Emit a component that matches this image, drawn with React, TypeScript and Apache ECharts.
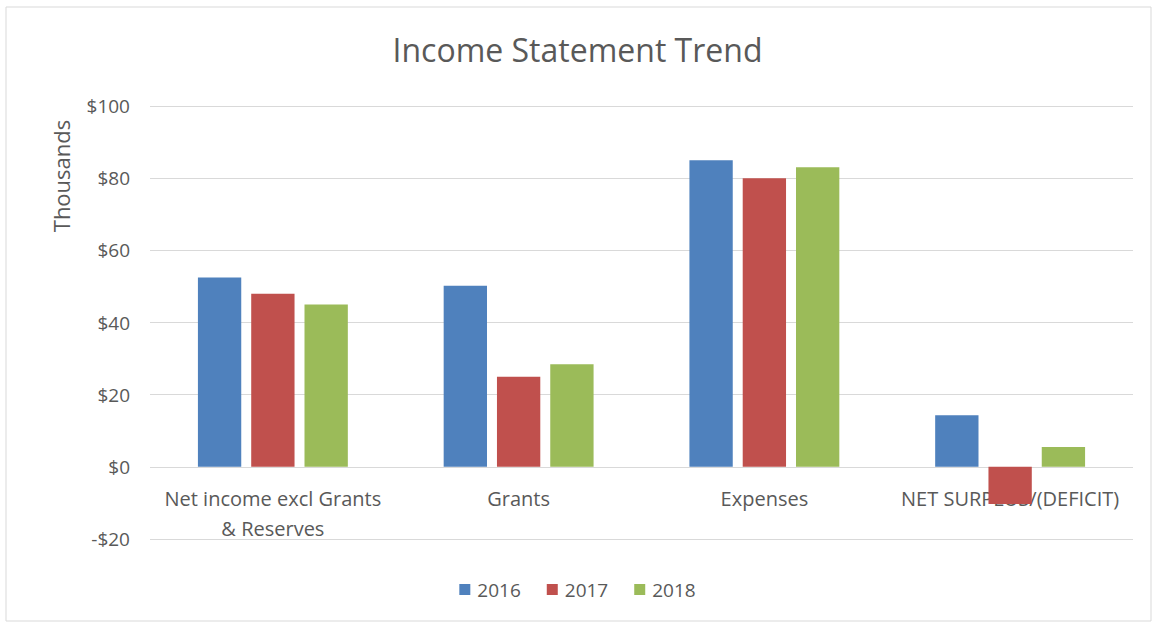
import React, { useEffect, useRef } from "react";
import * as echarts from "echarts";

const categories = ["Net income excl Grants\n& Reserves", "Grants", "Expenses", "NET SURPLUS/(DEFICIT)"];
const years = ["2016", "2017", "2018"];
const values2016 = [52.5, 50.2, 85, 14.3];
const values2017 = [48, 25, 80, -10.3];
const values2018 = [45, 28.4, 83, 5.5];
const colors = ["#4F81BD", "#C0504D", "#9BBB59"];
const yAxisTitle = "Thousands";

export default function App() {
  const ref = useRef<HTMLDivElement>(null);
  useEffect(() => {
    if (!ref.current) return;
    const chart = echarts.init(ref.current, null, { renderer: "svg" });
    const font = "'Open Sans', 'Noto Sans', sans-serif";
    const seriesData = [values2016, values2017, values2018];
    chart.setOption({
      animation: false,
      backgroundColor: "#ffffff",
      textStyle: { fontFamily: font },
      title: {
        text: "Income Statement Trend",
        left: "center",
        top: 28,
        textStyle: { fontFamily: font, fontSize: 32, fontWeight: "normal", color: "#595959" },
      },
      graphic: [
        {
          type: "rect",
          shape: { x: 6, y: 7, width: 1145, height: 614 },
          style: { fill: "none", stroke: "#d9d9d9", lineWidth: 1 },
          silent: true,
          z: -1,
        },
        {
          type: "text",
          x: 61,
          y: 176,
          rotation: Math.PI / 2,
          style: {
            text: yAxisTitle,
            fontFamily: font,
            fontSize: 22,
            fill: "#595959",
            align: "center",
            verticalAlign: "middle",
          },
          silent: true,
        },
      ],
      legend: {
        data: years,
        bottom: 24,
        left: "center",
        itemWidth: 11,
        itemHeight: 11,
        itemGap: 26,
        icon: "rect",
        textStyle: { fontFamily: font, fontSize: 19, color: "#595959", padding: [0, 0, 0, 2] },
      },
      grid: { left: 150, right: 22, top: 106, bottom: 89, outerBoundsMode: "none", containLabel: false },
      xAxis: {
        type: "category",
        data: categories,
        offset: -72,
        axisLine: { show: false, onZero: false },
        axisTick: { show: false },
        axisLabel: { fontFamily: font, fontSize: 20, color: "#595959", margin: 16, lineHeight: 30, interval: 0 },
      },
      yAxis: {
        type: "value",
        min: -20,
        max: 100,
        interval: 20,
        axisLine: { show: false },
        axisTick: { show: false },
        splitLine: { lineStyle: { color: "#d9d9d9" } },
        axisLabel: {
          fontFamily: font,
          fontSize: 19,
          color: "#595959",
          margin: 20,
          formatter: (v: number) => (v < 0 ? "-$" + Math.abs(v) : "$" + v),
        },
      },
      series: years.map((y, i) => ({
        name: y,
        type: "bar",
        data: seriesData[i],
        itemStyle: { color: colors[i] },
        barGap: "23%",
        barCategoryGap: "39%",
      })),
    });
    return () => chart.dispose();
  }, []);
  return <div ref={ref} style={{ position: "fixed", left: 0, top: 0, width: 1155, height: 628 }} />;
}
